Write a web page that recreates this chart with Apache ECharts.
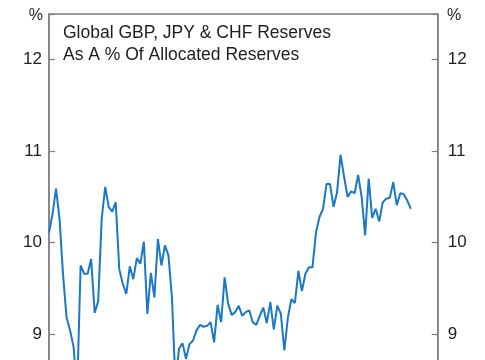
<!DOCTYPE html>
<html>
<head>
<meta charset="utf-8">
<script src="https://cdn.jsdelivr.net/npm/echarts@6/dist/echarts.min.js"></script>
<style>
html,body{margin:0;padding:0;background:#fff;overflow:hidden;}
#wrap{width:485px;height:360px;overflow:hidden;position:relative;}
#chart{width:485px;height:440px;position:absolute;left:0;top:0;}
</style>
</head>
<body>
<div id="wrap"><div id="chart"></div></div>
<script>
// Quarterly observations, 1995Q1 .. 2020Q4
const quarters = [];
for (let y = 1995; y <= 2020; y++) for (let q = 1; q <= 4; q++) quarters.push(y + 'Q' + q);

const reserveShare = [
  10.11, 10.31, 10.59, 10.26, 9.65, 9.18, 9.04, 8.86, 8.35, 9.75,
  9.66, 9.66, 9.82, 9.23, 9.36, 10.26, 10.61, 10.39, 10.34, 10.44,
  9.71, 9.55, 9.44, 9.74, 9.60, 9.83, 9.77, 10.01, 9.22, 9.67,
  9.40, 10.04, 9.75, 9.97, 9.86, 9.40, 8.45, 8.84, 8.90, 8.73,
  8.89, 8.93, 9.04, 9.10, 9.08, 9.09, 9.13, 8.91, 9.32, 9.13,
  9.62, 9.33, 9.21, 9.24, 9.31, 9.20, 9.24, 9.26, 9.13, 9.10,
  9.20, 9.29, 9.12, 9.35, 9.05, 9.31, 9.22, 8.82, 9.18, 9.38,
  9.34, 9.69, 9.47, 9.66, 9.73, 9.73, 10.11, 10.28, 10.37, 10.64,
  10.64, 10.39, 10.55, 10.96, 10.72, 10.50, 10.56, 10.54, 10.74, 10.50,
  10.08, 10.70, 10.27, 10.37, 10.23, 10.44, 10.48, 10.49, 10.66, 10.41,
  10.54, 10.53, 10.46, 10.37
];

const yTicks = [8, 9, 10, 11, 12];
const titleLines = ['Global GBP, JPY & CHF Reserves', 'As A % Of Allocated Reserves'];
const unitLabel = '%';

const FONT = '"Liberation Sans", Arial, sans-serif';
const AXIS_GRAY = '#808080';
const TEXT = '#1e1e1e';

const chart = echarts.init(document.getElementById('chart'), null, {renderer: 'canvas'});

const yAxisBase = {
  type: 'value',
  min: 8,
  max: 12.5,
  interval: 1,
  axisLine: {show: true, lineStyle: {color: AXIS_GRAY, width: 1.5}},
  axisTick: {show: true, inside: true, length: 6, lineStyle: {color: AXIS_GRAY, width: 1.2}},
  splitLine: {show: false},
  axisLabel: {
    fontSize: 17, color: TEXT, fontFamily: FONT,
    formatter: v => (yTicks.indexOf(v) >= 0 ? String(v) : '')
  }
};

chart.setOption({
  animation: false,
  backgroundColor: '#ffffff',
  title: {
    text: titleLines.join('\n'),
    left: 58,
    top: 17,
    textStyle: {fontSize: 17.5, fontWeight: 'normal', color: TEXT, fontFamily: FONT, lineHeight: 22}
  },
  graphic: [
    {type: 'text', right: 485 - 43, top: 8, style: {text: unitLabel, fontSize: 16, fill: TEXT, font: '16px ' + FONT}},
    {type: 'text', left: 447, top: 8, style: {text: unitLabel, fontSize: 16, fill: TEXT, font: '16px ' + FONT}}
  ],
  grid: {
    left: 49, top: 14, width: 388.7, height: 411.5,
    show: true, borderColor: AXIS_GRAY, borderWidth: 1.5, containLabel: false
  },
  xAxis: {
    type: 'value',
    min: 0,
    max: 110.65,
    show: false
  },
  yAxis: [
    Object.assign({}, yAxisBase, {position: 'left', axisLabel: Object.assign({}, yAxisBase.axisLabel, {margin: 7})}),
    Object.assign({}, yAxisBase, {position: 'right', axisLabel: Object.assign({}, yAxisBase.axisLabel, {margin: 10})})
  ],
  series: [{
    type: 'line',
    name: quarters[0],
    data: reserveShare.map((v, i) => [i, v]),
    showSymbol: false,
    symbol: 'none',
    lineStyle: {color: '#1b78c6', width: 2},
    clip: true
  }]
});
</script>
</body>
</html>
